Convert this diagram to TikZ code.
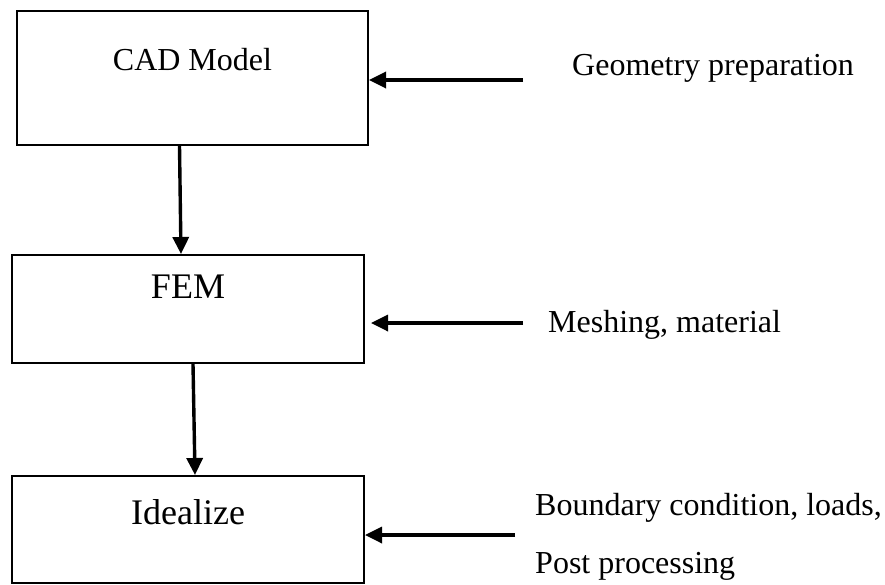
\documentclass[tikz,border=0pt]{standalone}
\usepackage{fontspec}
\setmainfont{Liberation Serif}
\usetikzlibrary{arrows.meta,positioning}
\tikzset{%
    stage/.style={%
        draw, line width=2pt, inner sep=0pt, minimum width=352pt, anchor=base,
        font=\fontsize{32}{38}\selectfont
    },
    big/.style={%
        font=\fontsize{36}{42}\selectfont
    },
    note/.style={%
        anchor=base west, inner sep=0pt, font=\fontsize{32}{38}\selectfont
    },
    flow/.style={%
        draw, line width=3.4pt, -{Triangle[length=17pt,width=16pt]}
    }
}

\begin{document}
\begin{tikzpicture}[x=1pt, y=-1pt]
    \useasboundingbox (0,0) rectangle (885,584);
    \node[stage, minimum width=351pt, text height=59pt, text depth=75pt] (cad) at (192.5,70) {CAD Model};
    \node[stage, big, text height=43pt, text depth=65pt] (fem) at (188,298) {FEM};
    \node[stage, big, text height=48pt, text depth=59pt] (idealize) at (188,524) {Idealize};
    \node[note] (geometry) at (572,75) {Geometry preparation};
    \node[note] (meshing) at (548,332) {Meshing, material};
    \node[note] (boundary) at (535,515) {Boundary condition, loads,};
    \node[note] (post) at (535,573) {Post processing};
    \coordinate (geomstart) at (523,80);
    \coordinate (meshstart) at (523,323);
    \coordinate (bcstart) at (515,535);
    \path[every edge/.append style={flow}]
        ([xshift=-13pt]cad.south) edge ([xshift=-7pt]fem.north)
        ([xshift=5pt]fem.south) edge ([xshift=7pt]idealize.north)
        (geomstart) edge (geomstart -| cad.east)
        (meshstart) edge[shorten >=6pt] (meshstart -| fem.east)
        (bcstart) edge (bcstart -| idealize.east)
        ;
\end{tikzpicture}
\end{document}
